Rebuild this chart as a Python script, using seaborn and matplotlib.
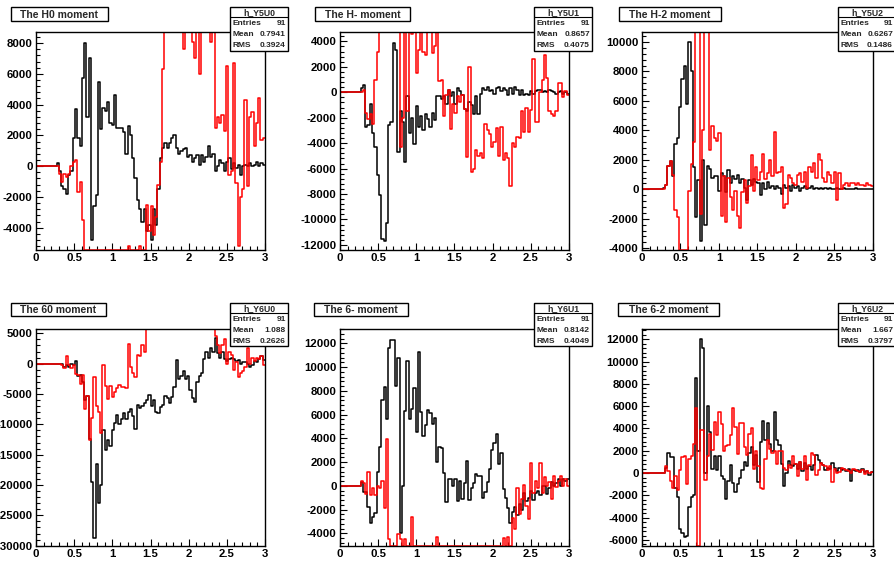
import numpy as np
import pandas as pd
import matplotlib
matplotlib.use("Agg")
import matplotlib.pyplot as plt
import seaborn as sns
from matplotlib.patches import Rectangle
from matplotlib.lines import Line2D
from matplotlib.ticker import MultipleLocator, FuncFormatter
from matplotlib.transforms import Bbox, TransformedBbox

# ---------------- data ----------------
bin_edges = np.round(np.arange(0, 3.0001, 0.03), 4)   # 100 bins of width 0.03
empty_bins = 9                                          # bins 0..8 are empty (0 .. 0.27)

titles = ["The H0 moment", "The H- moment", "The H-2 moment",
          "The 60 moment", "The 6- moment", "The 6-2 moment"]
hist_names = ["h_Y5U0", "h_Y5U1", "h_Y5U2", "h_Y6U0", "h_Y6U1", "h_Y6U2"]
entries = [91, 91, 91, 91, 91, 91]
means = ["0.7941", "0.8657", "0.6267", "1.088", "0.8142", "1.667"]
rms = ["0.3924", "0.4075", "0.1486", "0.2626", "0.4049", "0.3797"]

y_limits = [(-5450, 8720), (-12400, 4740), (-4120, 10680),
            (-30050, 5710), (-5070, 13200), (-6540, 12925)]
y_major = [2000, 2000, 2000, 5000, 2000, 2000]
y_minor = [400, 400, 400, 1000, 400, 400]

# bin contents for bins 9..99
h0_black = [200,
    -300, -1300, -1500, -1800, -600, -300, 1800, 3700, 1800, 1300,
    5700, 8000, 3200, 7000, -4800, -2600, -1900, 5500, 2400, 3800,
    3600, 4200, 2800, 2700, 4600, 2500, 2500, 2500, 2200, 800,
    2600, 2000, 500, -800, -2200, -2800, -3600, -2800, -4200, -3800,
    -4800, -2800, -3800, -1500, 500, 1200, 1500, 1200, 1500, 1800,
    2000, 1200, 800, 1000, 1100, 1200, 600, 700, 300, 500,
    700, 100, 700, 300, 600, 1300, 600, 800, -300, 0,
    400, 200, -300, 300, 500, -200, 200, -100, 100, -600,
    0, 100, 0, 200, 0, 100, 300, 0, 200, 100]
h0_red = [0,
    -500, -1000, -500, -700, -500, 0, 300, 400, -1700, -1000,
    -3500, -9000, -9000, -9000, -9000, -9000, -9000, -9000, -9000, -9000,
    -9000, -9000, -9000, -9000, -9000, -9000, -9000, -9000, -9000, -9000,
    -5200, -9000, -9000, -9000, -9000, -5200, -9000, -9000, -2500, -4200,
    -2600, -4500, -3300, -1200, 300, 6300, 12000, 12000, 12000, 12000,
    12000, 12000, 12000, 12000, 7600, 12000, 12000, 12000, 8100, 7000,
    12000, 6000, 12000, 12000, 12000, 12000, 8100, 12000, 2500, 3200,
    2800, 3300, 2300, 6500, -600, -300, 6700, -1100, -5200, -2000,
    -1500, 4300, -1300, 3200, 3500, 1300, 2800, 4400, 1700, 1800]

hm_black = [300,
    600, -2700, -2600, -900, -3200, -4300, -6500, -8100, -11500, -11700,
    -10300, -2600, -2300, 3900, 3300, -4700, -1500, -2300, -5500, -300,
    -3200, -2000, -4100, -1100, -2700, -1900, -3000, -1700, -2100, -2700,
    -1600, -2200, -300, -300, -500, -300, -900, 200, -300, 0,
    -900, 300, 100, -200, -1300, -1500, -800, -1000, -1700, -300,
    -1700, -100, 300, 200, 400, 100, 200, -100, 300, 400,
    100, 300, 200, -200, 300, -100, 400, 200, -200, 200,
    -200, -100, -200, 100, -100, 100, 200, 200, 0, 100,
    0, 200, 100, 0, -100, 0, 100, -100, 0, -100]
hm_red = [0,
    200, -1600, -2100, -1700, -2500, 1000, 3200, 8000, 8000, 8000,
    8000, 8000, 8000, 8000, 8000, 8000, -4300, -2000, 8000, -1500,
    8000, 4600, 8000, 1500, 3300, 8000, 3200, 2900, 8000, 8000,
    3100, 3600, 8000, 900, 1000, -1900, -200, 200, -2900, -900,
    -1600, -300, -800, -200, -1300, -5100, 2000, -6300, -6000, -4500,
    -5000, -4800, -5200, -2500, -3000, -3300, -4300, -3900, -2800, -5000,
    -2700, -5300, -4800, -5200, -7400, -4000, -4300, -3500, -3600, -1500,
    -3100, -1200, -3100, -1400, 2600, -2300, -2300, 0, 1000, 2900,
    1100, -1500, -1700, -1900, -1500, 700, 700, -400, 100, -200]

hm2_black = [100,
    300, 1600, 1900, 900, 3100, 3500, 5600, 7500, 8400, 5800,
    10000, 8000, 1500, -1900, 600, -3500, 2000, -2400, 1600, 1400,
    800, 900, 900, -100, 1100, 900, -200, 1300, 400, 900,
    700, 1000, 400, 700, 100, -700, 600, 300, 700, 500,
    400, -400, 400, 0, 500, 100, 200, 0, 200, 100,
    -300, 300, 100, 200, -100, 300, 100, 200, -100, 100,
    200, 0, 100, 200, 0, 100, 0, 100, 0, 100,
    0, 100, 0, 0, 100, 0, 0, 100, 0, 0,
    0, 0, 100, 0, 0, 0, 0, 0, 0, 0]
hm2_red = [0,
    300, 1600, 1900, 1000, -1400, -1900, -6000, -6000, -6000, -6000,
    -100, 1700, 3200, 14000, 14000, -1700, 4000, 14000, 14000, 2700,
    4300, 3500, 3300, 3800, -1800, 900, -2200, 800, -500, -1400,
    -100, -1800, -2600, -200, 600, -900, 200, 2300, -100, 1500,
    600, 1200, 2400, 700, 1100, 2000, 900, 3900, 1100, 1200,
    1500, -1300, -1000, 1000, 800, 400, 300, 1000, 1100, 500,
    1200, 100, 1500, 1200, 1800, 800, 2400, 2000, 800, 500,
    1200, 1000, 400, 1200, -700, 1100, 0, 300, 400, 200,
    400, 400, 300, 400, 300, 300, 200, 400, 300, 200]

s0_black = [0,
    0, -100, -500, -300, -500, 0, -300, 500, -2000, -1800,
    -3000, -6000, -5400, -12400, -19500, -28700, -16500, -23000, -20000, -11000,
    -14300, -12500, -13500, -11000, -9700, -8500, -9900, -9200, -8100, -9200,
    -8000, -7500, -8600, -10800, -6800, -7300, -7000, -6500, -6000, -5200,
    -7000, -6000, -8000, -8200, -7100, -6800, -5300, -5700, -6500, -5500,
    -3800, 600, -2500, -2000, -1200, -2600, -2000, -4400, -5700, -6300,
    -3000, -2000, -1500, 700, 2000, 1000, 2500, 2000, 4300, 1700,
    1000, 2000, 700, 500, 800, 1000, 700, 500, 600, 0,
    300, 200, 0, -500, -200, 400, 300, 800, 1200, 600]
s0_red = [0,
    0, -300, -700, 1300, -300, -700, -300, -1700, -1800, -3300,
    -1800, -7500, -5300, -12500, -9000, -2200, -7000, -8000, -11500, -300,
    -3700, -5800, -3700, -5500, -4600, -4000, -3500, -3800, -3900, -4000,
    3300, -600, -1500, -2200, 1400, 1200, 3100, 2000, 9000, 9000,
    9000, 9000, 9000, 9000, 9000, 9000, 9000, 9000, 9000, 9000,
    9000, 9000, 9000, 9000, 9000, 9000, 9000, 9000, 9000, 9000,
    9000, 9000, 9000, 9000, 9000, 9000, 9000, 9000, 4500, 3000,
    1700, 3000, 4000, 0, 2000, 1500, -1000, 300, -2200, -1500,
    -1200, -500, 2600, 0, 1000, 500, 1000, 800, 1200, -300]

sm_black = [300,
    -500, -500, -1800, -3100, -2600, -2300, 1200, 3300, 7200, 8300,
    5600, 11600, 12300, 12300, 8400, 10800, -4000, 0, 6300, 10500,
    5600, 6500, 8200, 4500, 11300, 6200, 4200, 5100, 6400, 6100,
    5200, 5700, 2000, 3300, 3200, 1100, -1400, 600, 600, 0,
    600, -1300, 400, -1100, 200, 2100, -1200, -200, 200, 1000,
    800, 800, -1000, -500, 300, 1400, 3000, 3600, 4400, 1800,
    2800, -300, -1000, -1900, -3100, -2200, -1800, -2500, -1500, -2000,
    -600, -1300, -1000, -400, -1200, -600, -400, -800, 0, 0,
    -700, -200, 300, 0, 200, 600, 0, 600, 400, 600]
sm_red = [400,
    200, -700, 1200, -800, -200, -800, 0, -200, 400, -1900,
    3900, -4500, -8000, -8000, -8000, -4100, -4500, -8000, -4500, -8000,
    -8000, -2600, -8000, -8000, -8000, -8000, -8000, -8000, -8000, -8000,
    -8000, -8000, -4300, -8000, -8000, -8000, -8000, -8000, -8000, -8000,
    -8000, -8000, -8000, -8000, -8000, -8000, -8000, -8000, -8000, -8000,
    -8000, -8000, -8000, -8000, -8000, -8000, -8000, -8000, -8000, -8000,
    -8000, -4400, -8000, -4300, -8000, -2700, -3600, -200, -2400, -1100,
    100, -1700, -2800, 1900, -600, 400, -200, 1900, -600, 700,
    0, 300, -1100, 800, -100, 400, 800, 0, 600, 0]

sm2_black = [0,
    500, 1800, 1400, 1400, -1300, -2100, -5000, -5400, -5700, -5600,
    -3000, -2100, -2000, 8500, 2000, 12000, 11200, 0, 6000, 3700,
    400, 1500, 300, 1500, -300, -500, -2300, -700, 700, -900,
    -1700, -1000, -400, 300, 1000, 600, 1800, 2300, 700, 1600,
    -800, 2800, 4700, 3000, 4500, 2600, 2000, 5500, 3000, 2500,
    800, -1200, 0, 1100, 700, 600, 800, 400, 1000, 200,
    900, 400, 600, 300, 700, 1600, 1200, 900, 700, 300,
    500, 400, 900, 500, 200, 500, 300, 400, 200, 400,
    -700, 300, 200, 300, 100, 400, 100, 200, -200, 100]
sm2_red = [0,
    600, 200, -700, -1300, -300, -1500, 300, 1400, 1500, -1000,
    1300, 1500, 2600, 5800, -7000, 3900, 3900, -600, 1500, 3500,
    2100, 4600, 3400, 5500, 4400, 2000, 2400, 2500, 3400, 5800,
    4100, 1700, 4500, 4500, 2300, 1600, 3500, 4000, 400, 2000,
    600, -1300, -1400, 1300, 3000, 2200, 1800, 2000, 800, 2000,
    2000, 500, 300, 700, 500, 1500, 800, -300, 1000, 400,
    1500, -600, 700, 1800, 1600, -200, 300, 900, 700, 600,
    300, 600, -800, 400, 0, 100, 500, 400, 300, 200,
    0, 400, 300, 200, 100, 300, -100, 200, 0, 100]

black_series = [h0_black, hm_black, hm2_black, s0_black, sm_black, sm2_black]
red_series = [h0_red, hm_red, hm2_red, s0_red, sm_red, sm2_red]

# ---------------- layout (pixels, top-left origin) ----------------
W, H = 895, 562
axes_px = [(36, 32, 265, 250), (340, 32, 569, 250), (642, 32, 873, 250),
           (36, 329, 265, 546), (340, 329, 569, 546), (642, 329, 873, 546)]
pads_px = [(0, 0, 298, 281), (298, 0, 597, 281), (597, 0, 895, 281),
           (0, 281, 298, 562), (298, 281, 597, 562), (597, 281, 895, 562)]
title_px = [(11, 7, 108, 21), (315, 7, 410, 21), (619, 7, 721, 21),
            (11, 303, 106, 316), (314, 303, 408, 316), (618, 303, 719, 316)]
stats_px = [(230, 7, 288, 51), (534, 7, 592, 51), (838, 7, 896, 51),
            (230, 303, 288, 346), (534, 303, 592, 346), (838, 303, 896, 346)]

sns.set_theme(style="white")
plt.rcParams['font.family'] = ['Liberation Sans', 'DejaVu Sans']
plt.rcParams['font.weight'] = 'bold'
plt.rcParams['axes.unicode_minus'] = False

fig = plt.figure(figsize=(W / 100, H / 100), dpi=100)
fig.patch.set_facecolor('white')


def fx(x):
    return x / W


def fy(y):
    return 1 - y / H


axes = []
for k in range(6):
    l, t, r, b = axes_px[k]
    ax = fig.add_axes([fx(l), fy(b), (r - l) / W, (b - t) / H])
    lo, hi = y_limits[k]
    for vals, col in [(black_series[k], 'black'), (red_series[k], '#ff0000')]:
        full = np.concatenate([np.zeros(empty_bins), np.asarray(vals, float)])
        yv = np.clip(np.append(full, full[-1]), lo, hi)
        df = pd.DataFrame({'x': bin_edges, 'y': yv})
        sns.lineplot(data=df, x='x', y='y', ax=ax, color=col, lw=1.1,
                     drawstyle='steps-post', estimator=None, sort=False,
                     legend=False)
    ax.set_xlim(0, 3)
    ax.set_ylim(lo, hi)
    ax.set_xlabel('')
    ax.set_ylabel('')
    ax.set_facecolor('white')
    for s in ax.spines.values():
        s.set_visible(True)
        s.set_color('black')
        s.set_linewidth(1.0)
    ax.xaxis.set_major_locator(MultipleLocator(0.5))
    ax.xaxis.set_minor_locator(MultipleLocator(0.1))
    ax.yaxis.set_major_locator(MultipleLocator(y_major[k]))
    ax.yaxis.set_minor_locator(MultipleLocator(y_minor[k]))
    ax.xaxis.set_major_formatter(FuncFormatter(lambda v, p: f"{v:g}"))
    ax.yaxis.set_major_formatter(FuncFormatter(lambda v, p: f"{int(round(v))}"))
    ax.tick_params(which='both', direction='in', left=True, bottom=True,
                   top=False, right=False, colors='black', width=0.8)
    ax.tick_params(which='major', length=5.2, labelsize=8.2, pad=2.5)
    ax.tick_params(which='minor', length=2.8)
    axes.append(ax)

fig.canvas.draw()
for k, ax in enumerate(axes):
    x0, y0, x1, y1 = pads_px[k]
    bb = TransformedBbox(Bbox([[fx(x0), fy(y1)], [fx(x1), fy(y0)]]), fig.transFigure)
    for tick in ax.yaxis.get_major_ticks():
        tick.label1.set_clip_box(bb)
        tick.label1.set_clip_on(True)

# title boxes and stats boxes
for k in range(6):
    x0, y0, x1, y1 = title_px[k]
    fig.add_artist(Rectangle((fx(x0), fy(y1)), (x1 - x0) / W, (y1 - y0) / H,
                             transform=fig.transFigure, fc='white', ec='black',
                             lw=1.0, zorder=5))
    fig.text(fx((x0 + x1) / 2), fy((y0 + y1) / 2 + 0.5), titles[k], ha='center',
             va='center', fontsize=7.5, fontweight='bold', zorder=6)

    x0, y0, x1, y1 = stats_px[k]
    fig.add_artist(Rectangle((fx(x0), fy(y1)), (x1 - x0) / W, (y1 - y0) / H,
                             transform=fig.transFigure, fc='white', ec='black',
                             lw=1.0, zorder=5))
    fig.add_artist(Line2D([fx(x0), fx(x1)], [fy(y0 + 9.5), fy(y0 + 9.5)],
                          transform=fig.transFigure, color='black', lw=0.8,
                          zorder=6))
    fig.text(fx((x0 + x1) / 2), fy(y0 + 5.2), hist_names[k], ha='center',
             va='center', fontsize=6.3, fontweight='bold', zorder=7)
    rows = [("Entries", str(entries[k])), ("Mean", means[k]), ("RMS", rms[k])]
    for j, (lab, val) in enumerate(rows):
        yy = y0 + 16.5 + 11 * j
        fig.text(fx(x0 + 2.5), fy(yy), lab, ha='left', va='center',
                 fontsize=6, fontweight='bold', zorder=7)
        fig.text(fx(min(x1, W) - 2), fy(yy), val, ha='right', va='center',
                 fontsize=6, fontweight='bold', zorder=7)

fig.savefig('out.png', dpi=100, facecolor='white')
